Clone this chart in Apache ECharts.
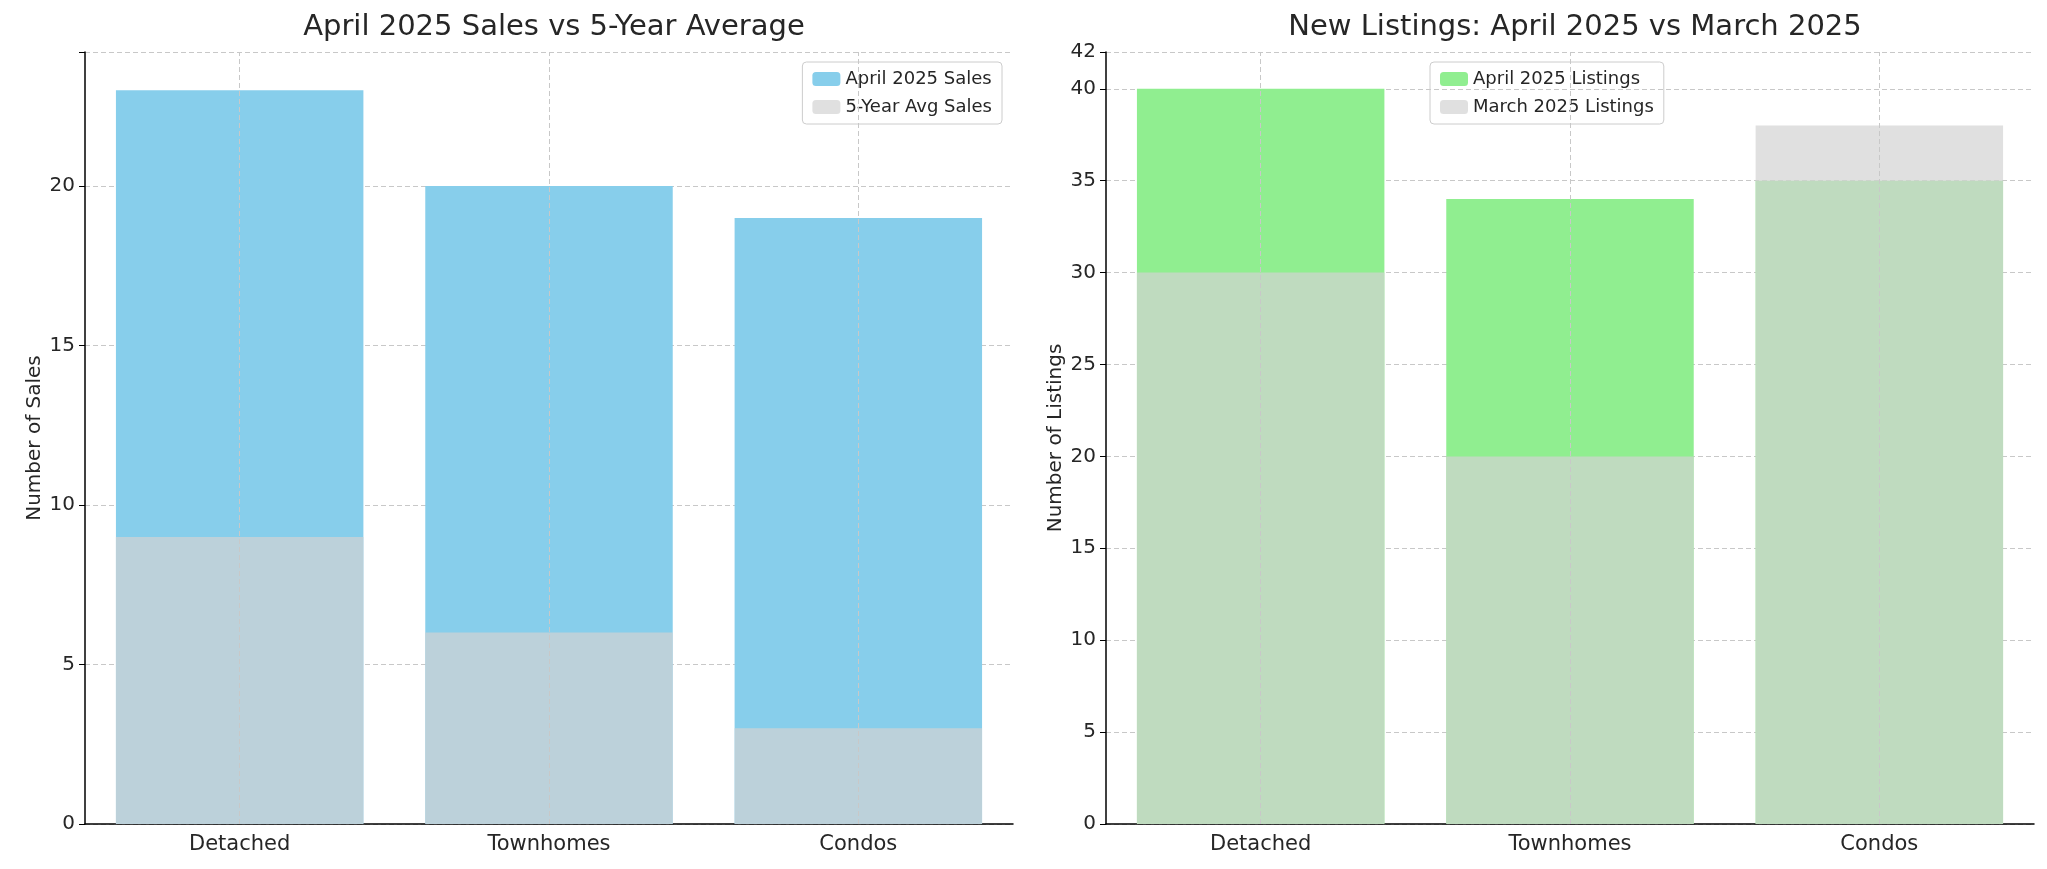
<!DOCTYPE html>
<html><head><meta charset="utf-8">
<script src="https://cdn.jsdelivr.net/npm/echarts@6/dist/echarts.min.js"></script>
<style>html,body{margin:0;padding:0;background:#fff}#c{width:2047px;height:869px}</style>
</head><body><div id="c"></div>
<script>
const categories = ['Detached', 'Townhomes', 'Condos'];
const aprilSales = [23, 20, 19];
const avgSales = [9, 6, 3];
const aprilListings = [40, 34, 35];
const marchListings = [30, 20, 38];

const F = 'DejaVu Sans';
const txt = '#262626';
const chart = echarts.init(document.getElementById('c'));
const vlines = {silent:true, symbol:'none', label:{show:false},
  lineStyle:{color:'#c8c8c8', type:[5,3], width:1},
  data: categories.map(c => ({xAxis:c}))};
function xAx(i){return {type:'category', gridIndex:i, data:categories,
  axisLine:{lineStyle:{color:'#000', width:1.5}}, axisTick:{length:6, lineStyle:{color:'#000'}, alignWithLabel:true},
  axisLabel:{fontFamily:F, fontSize:21, color:txt, margin:10}};}
function yAx(i,max,name){return {type:'value', gridIndex:i, min:0, max:max, interval:5,
  name:name, nameLocation:'middle', nameGap:40, nameTextStyle:{fontFamily:F, fontSize:20, color:txt},
  axisLine:{show:true, lineStyle:{color:'#000', width:1.5}}, axisTick:{show:true, length:6, lineStyle:{color:'#000'}},
  axisLabel:{fontFamily:F, fontSize:20, color:txt, margin:10, formatter: v => Number.isInteger(v)?v:''},
  splitLine:{lineStyle:{color:'#c8c8c8', type:[5,3]}}};}
chart.setOption({
  animation:false,
  title:[
    {text:'April 2025 Sales vs 5-Year Average', left:549, top:8, textAlign:'center', textStyle:{fontFamily:F, fontSize:29, fontWeight:'normal', color:txt}},
    {text:'New Listings: April 2025 vs March 2025', left:1570, top:8, textAlign:'center', textStyle:{fontFamily:F, fontSize:29, fontWeight:'normal', color:txt}}
  ],
  legend:[
    {data:['April 2025 Sales','5-Year Avg Sales'], orient:'vertical', right:1045, top:62, itemWidth:28, itemHeight:14, itemGap:10,
     padding:[8,10], borderColor:'#ccc', borderWidth:1, borderRadius:4, textStyle:{fontFamily:F, fontSize:18, color:txt}},
    {data:['April 2025 Listings','March 2025 Listings'], orient:'vertical', left:1430, top:62, itemWidth:28, itemHeight:14, itemGap:10,
     padding:[8,10], borderColor:'#ccc', borderWidth:1, borderRadius:4, textStyle:{fontFamily:F, fontSize:18, color:txt}}
  ],
  grid:[{left:85, right:1034, top:52, bottom:45}, {left:1106, right:13, top:52, bottom:45}],
  xAxis:[xAx(0), xAx(1)],
  yAxis:[yAx(0,24.2,'Number of Sales'), yAx(1,42,'Number of Listings')],
  series:[
    {name:'April 2025 Sales', type:'bar', xAxisIndex:0, yAxisIndex:0, data:aprilSales, barWidth:'80%', barGap:'-100%', itemStyle:{color:'#87CEEB'}, markLine:vlines, z:1},
    {name:'5-Year Avg Sales', type:'bar', xAxisIndex:0, yAxisIndex:0, data:avgSales, barWidth:'80%', barGap:'-100%', itemStyle:{color:'#D3D3D3', opacity:0.7}, z:2},
    {name:'April 2025 Listings', type:'bar', xAxisIndex:1, yAxisIndex:1, data:aprilListings, barWidth:'80%', barGap:'-100%', itemStyle:{color:'#90EE90'}, markLine:vlines, z:1},
    {name:'March 2025 Listings', type:'bar', xAxisIndex:1, yAxisIndex:1, data:marchListings, barWidth:'80%', barGap:'-100%', itemStyle:{color:'#D3D3D3', opacity:0.7}, z:2}
  ]
});
</script></body></html>
